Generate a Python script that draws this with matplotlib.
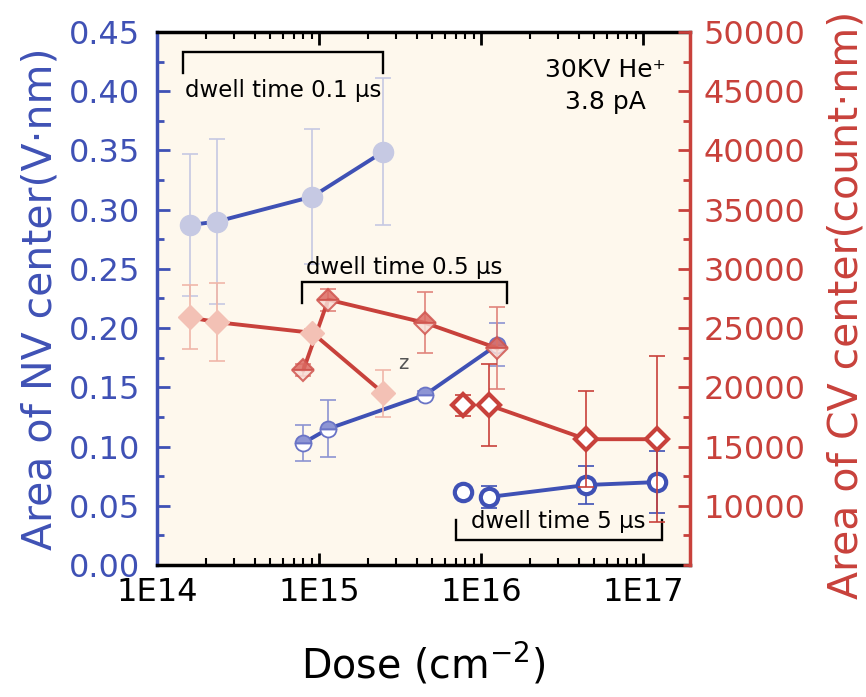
import matplotlib
matplotlib.use("Agg")
import matplotlib.pyplot as plt
from matplotlib.ticker import LogLocator, NullFormatter, MultipleLocator

plt.rcParams['font.family'] = ['DejaVu Sans']
plt.rcParams['mathtext.fontset'] = 'dejavusans'

# ---- data -------------------------------------------------------------
# ion dose (cm^-2) for the three dwell-time groups
dose_01 = [1.6e14, 2.35e14, 9.1e14, 2.5e15]
dose_05 = [8.0e14, 1.14e15, 4.5e15, 1.26e16]
dose_5 = [7.7e15, 1.12e16, 4.45e16, 1.22e17]

# NV centre area (V·nm), left axis
nv_01 = [0.287, 0.290, 0.311, 0.349]
nv_01_err = [0.060, 0.070, 0.057, 0.062]
nv_05 = [0.103, 0.115, 0.1435, 0.186]
nv_05_err = [0.015, 0.024, 0.003, 0.018]
nv_5 = [0.0616, 0.0574, 0.0675, 0.0700]
nv_5_err = [0.002, 0.009, 0.016, 0.026]

# CV centre area (count·nm), right axis
cv_01 = [25900, 25500, 24600, 19500]
cv_01_err = [2700, 3300, 350, 2000]
cv_05 = [21450, 27400, 25450, 23300]
cv_05_err = [500, 930, 2575, 3460]
cv_5 = [18500, 18500, 15620, 15620]
cv_5_err = [890, 3460, 4050, 7000]

x_ticks = [1e14, 1e15, 1e16, 1e17]
x_tick_labels = ['1E14', '1E15', '1E16', '1E17']

# ---- style ------------------------------------------------------------
BLUE = '#3F51B5'
RED = '#C8413B'
LAVENDER = '#C6C9E3'
PINK = '#F3C1B5'
BG = '#FEF8ED'
LW = 2.8
CAP = 5.5
TICK_FS = 23
LABEL_FS = 29.5

fig = plt.figure(figsize=(8.66, 6.97), dpi=100)
ax = fig.add_axes([0.1813, 0.1894, 0.6155, 0.7647])
ax.set_facecolor(BG)
ax2 = ax.twinx()

ax.set_xscale('log')
ax.set_xlim(1e14, 1.95e17)
ax.set_ylim(0, 0.45)
ax2.set_ylim(5000, 50000)

# ---- NV series (left axis) ---------------------------------------------
ax.errorbar(dose_01, nv_01, yerr=nv_01_err, fmt='none', ecolor=LAVENDER,
            elinewidth=1.2, capsize=CAP, capthick=1.2, zorder=2)
ax.plot(dose_01, nv_01, '-', color=BLUE, lw=LW, zorder=3)
ax.plot(dose_01, nv_01, 'o', ms=14.5, mfc=LAVENDER, mec=LAVENDER, zorder=4)

ax.errorbar(dose_05, nv_05, yerr=nv_05_err, fmt='none', ecolor='#8C94D2',
            elinewidth=1.2, capsize=CAP, capthick=1.2, zorder=2)
ax.plot(dose_05, nv_05, '-', color=BLUE, lw=LW, zorder=3)
ax.plot(dose_05, nv_05, 'o', ms=11.5, fillstyle='top', mfc='#8D95D4',
        markerfacecoloralt='white', mec='#6A74C6', mew=1.3, zorder=4)

ax.errorbar(dose_5, nv_5, yerr=nv_5_err, fmt='none', ecolor=BLUE,
            elinewidth=1.2, capsize=CAP, capthick=1.2, zorder=2)
ax.plot(dose_5[1:], nv_5[1:], '-', color=BLUE, lw=LW, zorder=3)
ax.plot(dose_5, nv_5, 'o', ms=12.5, mfc='white', mec=BLUE, mew=3, zorder=4)

# ---- CV series (right axis) --------------------------------------------
ax2.errorbar(dose_01, cv_01, yerr=cv_01_err, fmt='none', ecolor='#F0B6A9',
             elinewidth=1.2, capsize=CAP, capthick=1.2, zorder=2)
ax2.plot(dose_01, cv_01, '-', color=RED, lw=LW, zorder=3)
ax2.plot(dose_01, cv_01, 'D', ms=12, mfc=PINK, mec=PINK, zorder=4)

ax2.errorbar(dose_05, cv_05, yerr=cv_05_err, fmt='none', ecolor='#E0847C',
             elinewidth=1.2, capsize=CAP, capthick=1.2, zorder=2)
ax2.plot(dose_05, cv_05, '-', color=RED, lw=LW, zorder=3)
ax2.plot(dose_05, cv_05, 'D', ms=11.5, fillstyle='top', mfc='#DC6B63',
         markerfacecoloralt='#F8DDD6', mec='#D0554F', mew=1.5, alpha=0.85,
         zorder=4)

ax2.errorbar(dose_5, cv_5, yerr=cv_5_err, fmt='none', ecolor=RED,
             elinewidth=1.2, capsize=CAP, capthick=1.2, zorder=2)
ax2.plot(dose_5[1:], cv_5[1:], '-', color=RED, lw=LW, zorder=3)
ax2.plot(dose_5, cv_5, 'D', ms=11, mfc='white', mec=RED, mew=3, zorder=4)

# ---- axes, spines, ticks ---------------------------------------------
for s in ('top', 'bottom'):
    ax.spines[s].set_color('black')
    ax.spines[s].set_linewidth(2.5)
ax.spines['left'].set_color(BLUE)
ax.spines['left'].set_linewidth(2.5)
ax.spines['right'].set_visible(False)
for s in ('left', 'top', 'bottom'):
    ax2.spines[s].set_visible(False)
ax2.spines['right'].set_color(RED)
ax2.spines['right'].set_linewidth(2.5)

ax.set_xticks(x_ticks, labels=x_tick_labels)
ax.xaxis.set_minor_locator(LogLocator(base=10, subs=range(2, 10), numticks=20))
ax.xaxis.set_minor_formatter(NullFormatter())
ax.tick_params(axis='x', which='both', direction='in', top=True, bottom=True,
               color='black', labelsize=TICK_FS, pad=9)
ax.tick_params(axis='x', which='major', length=9, width=2)
ax.tick_params(axis='x', which='minor', length=5, width=1.5)

ax.yaxis.set_major_locator(MultipleLocator(0.05))
ax.yaxis.set_minor_locator(MultipleLocator(0.025))
ax.yaxis.set_major_formatter(plt.FuncFormatter(lambda v, p: f'{v:.2f}'))
ax.tick_params(axis='y', which='both', direction='in', left=True, right=False,
               color=BLUE, labelcolor=BLUE, labelsize=TICK_FS, pad=12)
ax.tick_params(axis='y', which='major', length=9, width=2)
ax.tick_params(axis='y', which='minor', length=5, width=2)

ax2.set_yticks(range(10000, 50001, 5000))
ax2.yaxis.set_minor_locator(MultipleLocator(2500))
ax2.tick_params(axis='y', which='both', direction='in', right=True,
                color=RED, labelcolor=RED, labelsize=TICK_FS, pad=10)
ax2.tick_params(axis='y', which='major', length=9, width=2)
ax2.tick_params(axis='y', which='minor', length=5, width=2)

# ---- labels ------------------------------------------------------------
fig.text(0.047, 0.572, 'Area of NV center(V·nm)', rotation=90, color=BLUE,
         fontsize=LABEL_FS, ha='center', va='center')
fig.text(0.977, 0.562, 'Area of CV center(count·nm)', rotation=90, color=RED,
         fontsize=LABEL_FS, ha='center', va='center')
fig.text(0.489, 0.046, 'Dose (cm$^{-2}$)', fontsize=LABEL_FS - 1, ha='center',
         va='center')

# ---- dwell-time brackets and notes -----------------------------------
bkw = dict(color='black', lw=1.7, zorder=5, solid_joinstyle='miter')
ax.plot([1.45e14, 1.45e14, 2.48e15, 2.48e15], [0.415, 0.433, 0.433, 0.415], **bkw)
ax.text(6.0e14, 0.401, 'dwell time 0.1 µs', fontsize=16.5, ha='center', va='center')

ax.plot([7.85e14, 7.85e14, 1.445e16, 1.445e16], [0.221, 0.239, 0.239, 0.221], **bkw)
ax.text(3.35e15, 0.2515, 'dwell time 0.5 µs', fontsize=16.5, ha='center', va='center')

ax.plot([7.0e15, 7.0e15, 1.31e17, 1.31e17], [0.038, 0.021, 0.021, 0.038], **bkw)
ax.text(2.99e16, 0.0363, 'dwell time 5 µs', fontsize=16.5, ha='center', va='center')

ax.text(3.3e15, 0.1705, 'z', fontsize=14, color='#555555', ha='center', va='center')

ax.text(0.842, 0.929, '30KV He⁺', transform=ax.transAxes, fontsize=18,
        ha='center', va='center')
ax.text(0.842, 0.869, '3.8 pA', transform=ax.transAxes, fontsize=18,
        ha='center', va='center')

fig.savefig('out.png', dpi=100)
